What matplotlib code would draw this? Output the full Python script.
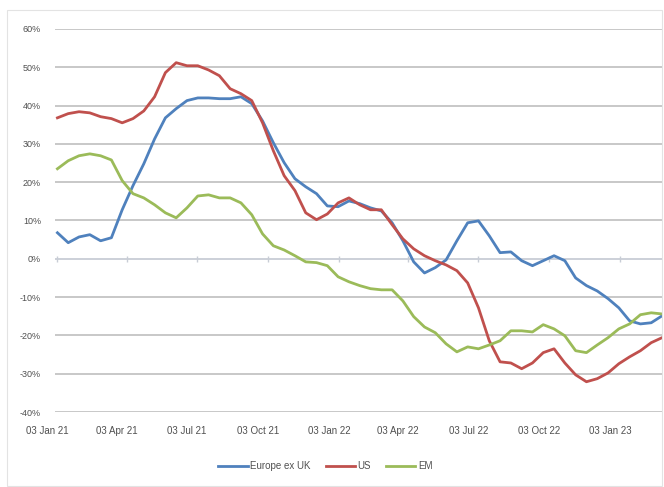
import numpy as np
import pandas as pd
import matplotlib
matplotlib.use("Agg")
import matplotlib.pyplot as plt
import matplotlib.dates as mdates
import matplotlib.transforms as mtransforms
from matplotlib.patches import Rectangle

# --- data (biweekly, % change) ---
dates = pd.date_range("2021-01-03", periods=57, freq="14D")

europe_ex_uk = [6.8, 4.2, 5.7, 6.3, 4.7, 5.5, 12.8, 19.1, 24.8, 31.3,
                36.8, 39.2, 41.3, 42.0, 42.0, 41.8, 41.8, 42.3, 40.5, 36.0,
                30.3, 25.1, 20.9, 18.8, 17.0, 13.8, 13.6, 15.1, 14.4, 13.3,
                12.5, 9.4, 4.7, -0.8, -3.7, -2.3, -0.3, 4.7, 9.4, 9.9,
                6.0, 1.6, 1.8, -0.5, -1.8, -0.5, 0.8, -0.5, -5.0, -7.0,
                -8.4, -10.4, -12.8, -16.2, -17.0, -16.7, -14.9]

us = [36.8, 37.9, 38.4, 38.1, 37.1, 36.6, 35.5, 36.6, 38.6, 42.3,
      48.6, 51.2, 50.4, 50.4, 49.3, 47.8, 44.4, 43.1, 41.3, 35.5,
      28.2, 21.7, 17.8, 12.0, 10.2, 11.7, 14.6, 15.9, 14.1, 12.8,
      12.8, 8.9, 5.2, 2.6, 0.8, -0.5, -1.6, -3.1, -6.3, -12.8,
      -21.4, -26.9, -27.2, -28.7, -27.2, -24.5, -23.5, -27.2, -30.3, -32.1,
      -31.3, -29.8, -27.4, -25.6, -24.0, -21.9, -20.6]

em = [23.5, 25.6, 26.9, 27.4, 26.9, 25.8, 20.4, 17.0, 15.9, 14.1,
      12.0, 10.7, 13.3, 16.4, 16.7, 15.9, 15.9, 14.6, 11.5, 6.5,
      3.4, 2.3, 0.8, -0.8, -1.0, -1.8, -4.7, -6.0, -7.0, -7.8,
      -8.1, -8.1, -11.0, -15.1, -17.8, -19.3, -22.2, -24.3, -23.0, -23.5,
      -22.5, -21.4, -18.8, -18.8, -19.1, -17.2, -18.3, -20.1, -24.0, -24.5,
      -22.5, -20.6, -18.3, -17.0, -14.6, -14.1, -14.4]

series_names = ["Europe ex UK", "US", "EM"]
colors = ["#4F81BD", "#C0504D", "#9BBB59"]

tick_dates = pd.date_range("2021-01-01", "2023-01-01", freq="QS") + pd.Timedelta(days=2)
y_ticks = np.arange(-40, 61, 10)

plt.rcParams["font.family"] = ["Liberation Sans", "DejaVu Sans"]

fig = plt.figure(figsize=(6.64, 4.87), dpi=100)
ax = fig.add_axes([0.083, 0.154, 0.914, 0.7865])

# excel-style outer chart border
fig.patches.append(Rectangle((7 / 664, 1 / 487), 655 / 664, 476 / 487,
                             transform=fig.transFigure, fill=False,
                             edgecolor="#e3e3e3", linewidth=0.8))

for y in y_ticks:
    if y != 0:
        ax.axhline(y, color="#c4c4c4", linewidth=1.3, zorder=1)
ax.axhline(0, color="#c8cdd6", linewidth=1.3, zorder=1)
ax.plot(tick_dates, np.zeros(len(tick_dates)), linestyle="none", marker="|",
        markersize=4, color="#c8cdd6", zorder=1)

for vals, name, c in zip([europe_ex_uk, us, em], series_names, colors):
    ax.plot(dates, vals, color=c, linewidth=2.0, label=name, zorder=3)

ax.set_ylim(-40, 60)
ax.set_xlim(dates[0] - pd.Timedelta(days=3), dates[-1])
ax.set_yticks(y_ticks)
ax.set_yticklabels([f"{v}%" for v in y_ticks])
ax.set_xticks(tick_dates)
ax.xaxis.set_major_formatter(mdates.DateFormatter("%d %b %y"))

for s in ax.spines.values():
    s.set_visible(False)
ax.tick_params(axis="both", length=0, labelsize=7, colors="#505050")
ax.tick_params(axis="x", pad=10)
ax.tick_params(axis="y", labelsize=6.5, pad=13)

# excel draws these labels a touch left of the tick
shift = mtransforms.ScaledTranslation(-10 / 100, 0, fig.dpi_scale_trans)
for lab in ax.get_xticklabels():
    lab.set_transform(lab.get_transform() + shift)
yshift = mtransforms.ScaledTranslation(4 / 100, 0, fig.dpi_scale_trans)
for lab in ax.get_yticklabels():
    lab.set_transform(lab.get_transform() + yshift)

fig.legend(loc="center", bbox_to_anchor=(0.49, 0.043), ncol=3, frameon=False,
           fontsize=7, handlelength=3.0, columnspacing=1.5, handletextpad=0.3,
           labelcolor="#505050")

fig.savefig("out.png", dpi=100)
